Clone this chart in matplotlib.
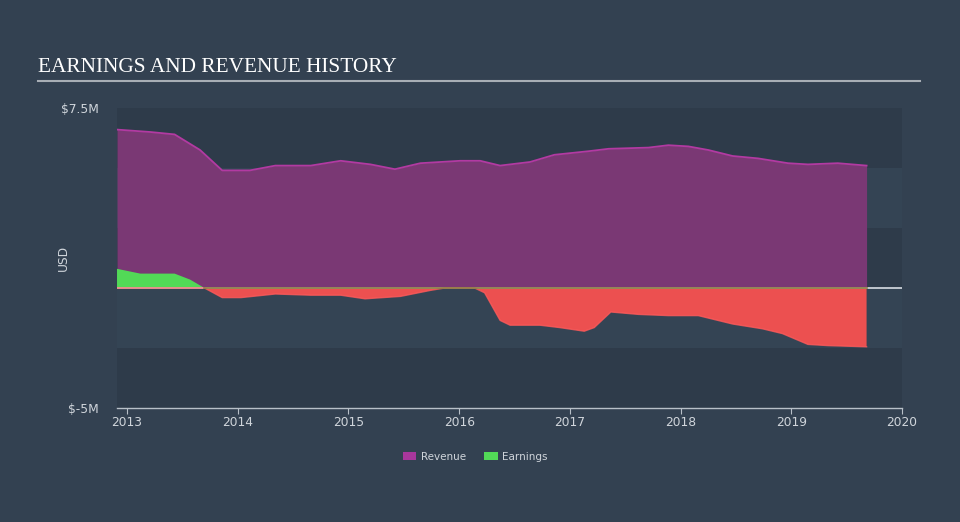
import numpy as np
import matplotlib.pyplot as plt
from matplotlib.patches import Patch

# values (USD millions, decimal years)
rev_t = [2012.91, 2013.21, 2013.43, 2013.66, 2013.86, 2014.11, 2014.34, 2014.66, 2014.93,
         2015.20, 2015.42, 2015.65, 2016.01, 2016.19, 2016.37, 2016.64, 2016.86, 2017.17,
         2017.35, 2017.71, 2017.89, 2018.07, 2018.25, 2018.47, 2018.70, 2018.97, 2019.15,
         2019.42, 2019.68]
rev_v = [6.6, 6.5, 6.4, 5.75, 4.9, 4.9, 5.1, 5.1, 5.3,
         5.15, 4.95, 5.2, 5.3, 5.3, 5.1, 5.25, 5.55, 5.7,
         5.8, 5.85, 5.95, 5.9, 5.75, 5.5, 5.4, 5.2, 5.15,
         5.2, 5.1]

earn_t = [2012.91, 2013.12, 2013.43, 2013.57, 2013.70, 2013.86, 2014.03, 2014.34, 2014.66,
          2014.93, 2015.15, 2015.47, 2015.74, 2015.87, 2016.14, 2016.23, 2016.37, 2016.46,
          2016.73, 2016.91, 2017.13, 2017.22, 2017.37, 2017.62, 2017.89, 2018.16, 2018.47,
          2018.74, 2018.92, 2019.15, 2019.33, 2019.68]
earn_v = [0.8, 0.6, 0.6, 0.35, 0.0, -0.4, -0.4, -0.25, -0.3,
          -0.3, -0.45, -0.35, -0.1, 0.02, 0.02, -0.2, -1.35, -1.55,
          -1.55, -1.65, -1.8, -1.65, -1.0, -1.1, -1.15, -1.15, -1.5,
          -1.7, -1.9, -2.35, -2.4, -2.45]

years = [2013, 2014, 2015, 2016, 2017, 2018, 2019, 2020]
band_edges = [-5, -2.5, 0, 2.5, 5, 7.5]

BG = '#334151'
TXT = '#d0d5db'
plt.rcParams['font.family'] = ['DejaVu Sans']

fig = plt.figure(figsize=(9.6, 5.22), dpi=100, facecolor=BG)
ax = fig.add_axes([0.1219, 0.2184, 0.8177, 0.5747])
ax.set_facecolor(BG)

# alternating horizontal bands
for i in range(len(band_edges) - 1):
    c = '#2e3b4a' if i % 2 == 0 else '#344454'
    ax.axhspan(band_edges[i], band_edges[i + 1], color=c, lw=0, zorder=0)

t_r = np.array(rev_t)
v_r = np.array(rev_v)
ax.fill_between(t_r, 0, v_r, color='#7a3874', lw=0, zorder=2)
ax.plot(t_r, v_r, color='#b23aa2', lw=1.3, zorder=3)

t_e = np.array(earn_t)
v_e = np.array(earn_v)
ax.fill_between(t_e, 0, v_e, where=v_e >= 0, interpolate=True, color='#52d957', lw=0, zorder=4)
ax.fill_between(t_e, 0, v_e, where=v_e <= 0, interpolate=True, color='#ec5050', lw=0, zorder=4)
ax.plot(t_e, np.minimum(v_e, 0), color='#ff5a5a', lw=1.0, zorder=5, alpha=0.8)
ax.axhline(0, color='#d8dde3', lw=1.2, zorder=4.5)
# earnings baseline under the revenue area (from the first zero crossing)
ax.plot([t_e[4], t_e[-1]], [0, 0], color='#8a7a40', lw=1.2, zorder=5)

ax.set_xlim(2012.91, 2020.0)
ax.set_ylim(-5, 7.5)
ax.set_yticks([-5, 7.5])
ax.set_yticklabels(['$-5M', '$7.5M'])
ax.set_xticks(years)
ax.set_xticklabels([str(y) for y in years])
ax.tick_params(axis='y', length=0, colors=TXT, labelsize=8.8, pad=13)
ax.tick_params(axis='x', length=4, color='#b8c0c8', colors=TXT, labelsize=8.8, pad=2)

for s in ['top', 'right', 'left']:
    ax.spines[s].set_visible(False)
ax.spines['bottom'].set_color('#b8c0c8')
ax.spines['bottom'].set_linewidth(1.0)

ax.set_ylabel('USD', color=TXT, fontsize=8.8)
ax.yaxis.set_label_coords(-0.06, 0.5)

# title and underline
fig.text(0.040, 0.870, 'EARNINGS AND REVENUE HISTORY', fontsize=15.3, color='#ffffff',
         family='Liberation Serif', va='center')
fig.add_artist(plt.Line2D([0.040, 0.958], [0.845, 0.845], color='#a8aeb5', lw=1.5))

# legend
handles = [Patch(facecolor='#a8379c', edgecolor='none', label='Revenue'),
           Patch(facecolor='#52d957', edgecolor='none', label='Earnings')]
leg = fig.legend(handles=handles, loc='center', bbox_to_anchor=(0.495, 0.125), ncol=2,
                 frameon=False, fontsize=7.5, handlelength=1.3, handleheight=0.9,
                 columnspacing=1.8, handletextpad=0.4)
for t in leg.get_texts():
    t.set_color(TXT)

fig.savefig('out.png', dpi=100, facecolor=BG)
